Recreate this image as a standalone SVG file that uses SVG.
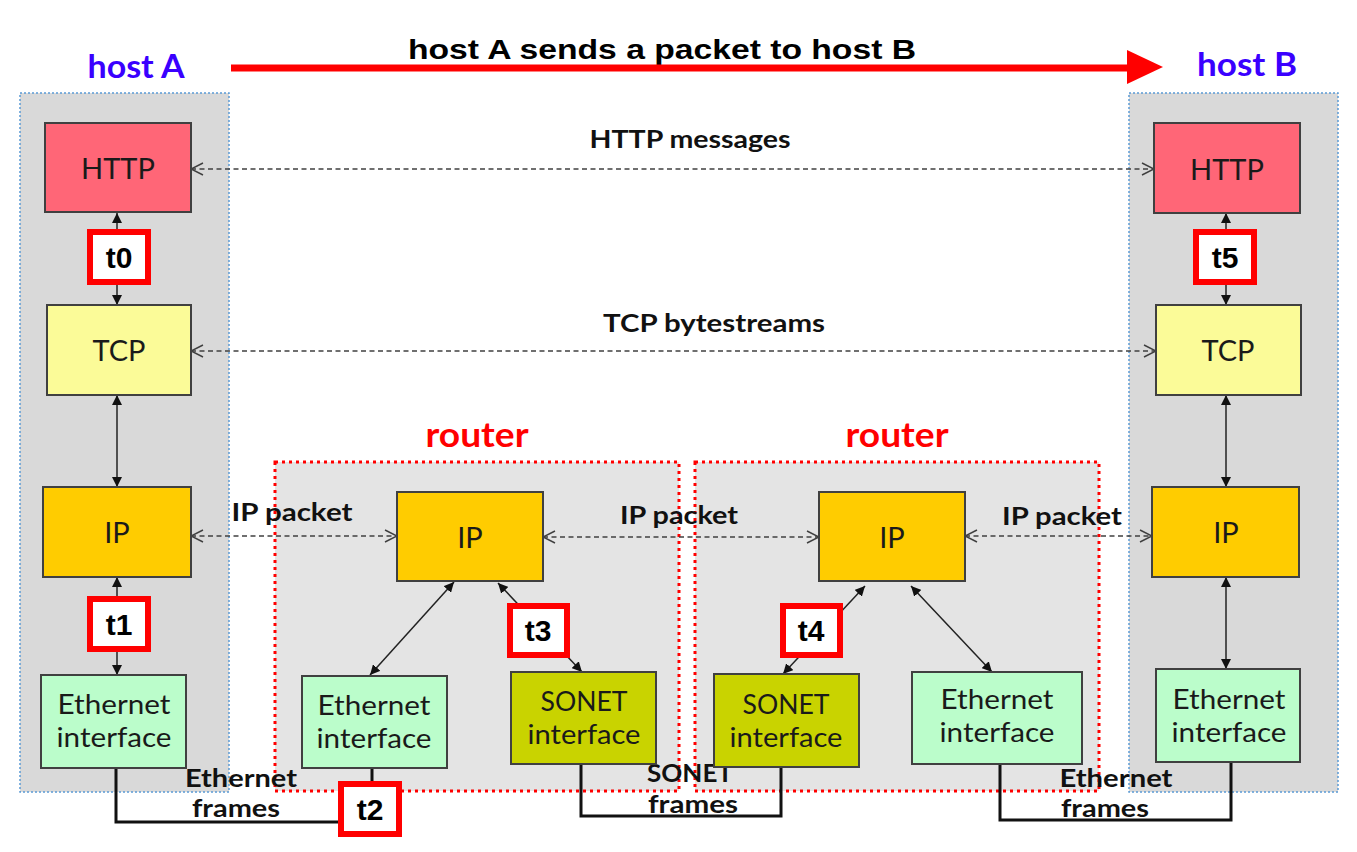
<svg xmlns="http://www.w3.org/2000/svg" width="1357" height="852" viewBox="0 0 1357 852">
<style>
.host{fill:#d9d9d9;stroke:#5b9bd5;stroke-width:1.5;stroke-dasharray:2 2}
.router{fill:#e4e4e4;stroke:#ff0000;stroke-width:3;stroke-dasharray:3 4}
.box{stroke:#404040;stroke-width:2}
.http{fill:#ff6677}
.tcp{fill:#fbfb98}
.ip{fill:#ffcc00}
.eth{fill:#bbfdcb}
.sonet{fill:#c9d300}
.bt{font-family:Lato,"Open Sans",sans-serif;font-size:29px;fill:#1a1a1a;text-anchor:middle}
.bt2{font-family:Lato,"Open Sans",sans-serif;font-size:27px;fill:#1a1a1a;text-anchor:middle}
.lbl{font-family:Lato,"Open Sans",sans-serif;font-weight:bold;font-size:24px;fill:#111;text-anchor:middle}
.tb{fill:#fff;stroke:#ff0000;stroke-width:6}
.tt{font-family:"Liberation Sans",Arial,sans-serif;font-weight:bold;font-size:30px;fill:#000;text-anchor:middle}
.dash{fill:none;stroke:#404040;stroke-width:1.5;stroke-dasharray:5 3.5}
.sol{fill:none;stroke:#222;stroke-width:1.5}
.wire{fill:none;stroke:#111;stroke-width:3}
.hl{font-family:Lato,"Open Sans",sans-serif;font-weight:bold;font-size:32px;fill:#3a00ff;text-anchor:middle}
.rl{font-family:Lato,"Open Sans",sans-serif;font-weight:bold;font-size:34px;fill:#ff0000;text-anchor:middle}
</style>
<defs>
<marker id="open" viewBox="0 0 14 14" refX="13" refY="7" markerWidth="14" markerHeight="14" markerUnits="userSpaceOnUse" orient="auto-start-reverse">
<path d="M1,1 L13,7 L1,13" fill="none" stroke="#404040" stroke-width="1.5"/>
</marker>
<marker id="fill" viewBox="0 0 10 10" refX="10" refY="5" markerWidth="10" markerHeight="10" markerUnits="userSpaceOnUse" orient="auto-start-reverse">
<path d="M0,0 L10,5 L0,10 Z" fill="#111"/>
</marker>
</defs>

<g id="title">
<text x="662" y="59" textLength="508" lengthAdjust="spacingAndGlyphs" style="font-family:'Liberation Sans',Arial,sans-serif;font-weight:bold;font-size:28px;text-anchor:middle;fill:#000">host A sends a packet to host B</text>
<line x1="231" y1="68" x2="1128" y2="68" stroke="#ff0000" stroke-width="7"/>
<polygon points="1127,50 1163,67 1127,84" fill="#ff0000"/>
</g>

<g id="hostA">
<rect class="host" x="20" y="93" width="209" height="699"/>
<text class="hl" x="136" y="78" textLength="97" lengthAdjust="spacingAndGlyphs">host A</text>
</g>
<g id="hostB">
<rect class="host" x="1129" y="93" width="209" height="699"/>
<text class="hl" x="1247" y="76" textLength="100" lengthAdjust="spacingAndGlyphs">host B</text>
</g>
<g id="router1">
<rect class="router" x="275" y="462" width="404" height="329"/>
<text class="rl" x="477" y="447" textLength="103" lengthAdjust="spacingAndGlyphs">router</text>
</g>
<g id="router2">
<rect class="router" x="695" y="462" width="404" height="329"/>
<text class="rl" x="897" y="447" textLength="103" lengthAdjust="spacingAndGlyphs">router</text>
</g>

<g id="connectors">
<line class="dash" x1="191" y1="169" x2="1154" y2="169" marker-start="url(#open)" marker-end="url(#open)"/>
<line class="dash" x1="191" y1="351" x2="1156" y2="351" marker-start="url(#open)" marker-end="url(#open)"/>
<line class="dash" x1="191" y1="536" x2="397" y2="536" marker-start="url(#open)" marker-end="url(#open)"/>
<line class="dash" x1="543" y1="537" x2="819" y2="537" marker-start="url(#open)" marker-end="url(#open)"/>
<line class="dash" x1="965" y1="536" x2="1152" y2="536" marker-start="url(#open)" marker-end="url(#open)"/>
<line class="sol" x1="117" y1="213" x2="117" y2="305" marker-start="url(#fill)" marker-end="url(#fill)"/>
<line class="sol" x1="117" y1="395" x2="117" y2="487" marker-start="url(#fill)" marker-end="url(#fill)"/>
<line class="sol" x1="117" y1="577" x2="117" y2="675" marker-start="url(#fill)" marker-end="url(#fill)"/>
<line class="sol" x1="1226" y1="213" x2="1226" y2="305" marker-start="url(#fill)" marker-end="url(#fill)"/>
<line class="sol" x1="1226" y1="395" x2="1226" y2="487" marker-start="url(#fill)" marker-end="url(#fill)"/>
<line class="sol" x1="1226" y1="577" x2="1226" y2="669" marker-start="url(#fill)" marker-end="url(#fill)"/>
<line class="sol" x1="454" y1="582" x2="370" y2="675" marker-start="url(#fill)" marker-end="url(#fill)"/>
<line class="sol" x1="498" y1="583" x2="582" y2="672" marker-start="url(#fill)" marker-end="url(#fill)"/>
<line class="sol" x1="865" y1="586" x2="783" y2="674" marker-start="url(#fill)" marker-end="url(#fill)"/>
<line class="sol" x1="911" y1="586" x2="992" y2="672" marker-start="url(#fill)" marker-end="url(#fill)"/>
<polyline class="wire" points="116,768 116,822 372,822 372,768"/>
<polyline class="wire" points="581,764 581,816 781,816 781,767"/>
<polyline class="wire" points="1000,764 1000,820 1231,820 1231,762"/>
<text class="lbl" x="690" y="148" textLength="201" lengthAdjust="spacingAndGlyphs">HTTP messages</text>
<text class="lbl" x="714" y="332" textLength="222" lengthAdjust="spacingAndGlyphs">TCP bytestreams</text>
<text class="lbl" x="292" y="521" textLength="121" lengthAdjust="spacingAndGlyphs">IP packet</text>
<text class="lbl" x="679" y="524" textLength="118" lengthAdjust="spacingAndGlyphs">IP packet</text>
<text class="lbl" x="1062" y="525" textLength="120" lengthAdjust="spacingAndGlyphs">IP packet</text>
<text class="lbl" x="241" y="787" textLength="112" lengthAdjust="spacingAndGlyphs">Ethernet</text>
<text class="lbl" x="236" y="817" textLength="88" lengthAdjust="spacingAndGlyphs">frames</text>
<text class="lbl" x="690" y="782" textLength="86" lengthAdjust="spacingAndGlyphs">SONET</text>
<text class="lbl" x="693" y="813" textLength="90" lengthAdjust="spacingAndGlyphs">frames</text>
<text class="lbl" x="1116" y="787" textLength="113" lengthAdjust="spacingAndGlyphs">Ethernet</text>
<text class="lbl" x="1105" y="817" textLength="88" lengthAdjust="spacingAndGlyphs">frames</text>
</g>

<g id="httpA"><rect class="box http" x="45" y="123" width="146" height="89"/><text class="bt" x="118" y="179">HTTP</text></g>
<g id="tcpA"><rect class="box tcp" x="47" y="305" width="144" height="90"/><text class="bt" x="119" y="361">TCP</text></g>
<g id="ipA"><rect class="box ip" x="43" y="487" width="148" height="90"/><text class="bt" x="117" y="543">IP</text></g>
<g id="ethA"><rect class="box eth" x="41" y="675" width="145" height="93"/><text class="bt2" x="114" y="714" textLength="113" lengthAdjust="spacingAndGlyphs">Ethernet</text><text class="bt2" x="114" y="747" textLength="115" lengthAdjust="spacingAndGlyphs">interface</text></g>

<g id="ipR1"><rect class="box ip" x="397" y="492" width="146" height="89"/><text class="bt" x="470" y="548">IP</text></g>
<g id="ethR1"><rect class="box eth" x="302" y="676" width="145" height="92"/><text class="bt2" x="374" y="715" textLength="113" lengthAdjust="spacingAndGlyphs">Ethernet</text><text class="bt2" x="374" y="748" textLength="115" lengthAdjust="spacingAndGlyphs">interface</text></g>
<g id="sonetR1"><rect class="box sonet" x="511" y="672" width="145" height="92"/><text class="bt2" x="584" y="711" textLength="87" lengthAdjust="spacingAndGlyphs">SONET</text><text class="bt2" x="584" y="744" textLength="113" lengthAdjust="spacingAndGlyphs">interface</text></g>

<g id="ipR2"><rect class="box ip" x="819" y="492" width="146" height="89"/><text class="bt" x="892" y="548">IP</text></g>
<g id="sonetR2"><rect class="box sonet" x="714" y="674" width="145" height="93"/><text class="bt2" x="786" y="714" textLength="87" lengthAdjust="spacingAndGlyphs">SONET</text><text class="bt2" x="786" y="747" textLength="113" lengthAdjust="spacingAndGlyphs">interface</text></g>
<g id="ethR2"><rect class="box eth" x="912" y="672" width="170" height="92"/><text class="bt2" x="997" y="709" textLength="113" lengthAdjust="spacingAndGlyphs">Ethernet</text><text class="bt2" x="997" y="742" textLength="115" lengthAdjust="spacingAndGlyphs">interface</text></g>

<g id="httpB"><rect class="box http" x="1154" y="123" width="146" height="90"/><text class="bt" x="1227" y="180">HTTP</text></g>
<g id="tcpB"><rect class="box tcp" x="1156" y="305" width="145" height="90"/><text class="bt" x="1228" y="361">TCP</text></g>
<g id="ipB"><rect class="box ip" x="1152" y="487" width="147" height="90"/><text class="bt" x="1226" y="543">IP</text></g>
<g id="ethB"><rect class="box eth" x="1156" y="669" width="144" height="93"/><text class="bt2" x="1229" y="709" textLength="113" lengthAdjust="spacingAndGlyphs">Ethernet</text><text class="bt2" x="1229" y="742" textLength="115" lengthAdjust="spacingAndGlyphs">interface</text></g>

<g id="t0"><rect class="tb" x="90" y="232" width="58" height="50"/><text class="tt" x="119" y="268">t0</text></g>
<g id="t1"><rect class="tb" x="90" y="599" width="58" height="50"/><text class="tt" x="119" y="635">t1</text></g>
<g id="t2"><rect class="tb" x="341" y="784" width="58" height="50"/><text class="tt" x="370" y="820">t2</text></g>
<g id="t3"><rect class="tb" x="510" y="606" width="57" height="49"/><text class="tt" x="538" y="641">t3</text></g>
<g id="t4"><rect class="tb" x="783" y="606" width="57" height="49"/><text class="tt" x="811" y="641">t4</text></g>
<g id="t5"><rect class="tb" x="1196" y="232" width="58" height="50"/><text class="tt" x="1225" y="268">t5</text></g>
</svg>
